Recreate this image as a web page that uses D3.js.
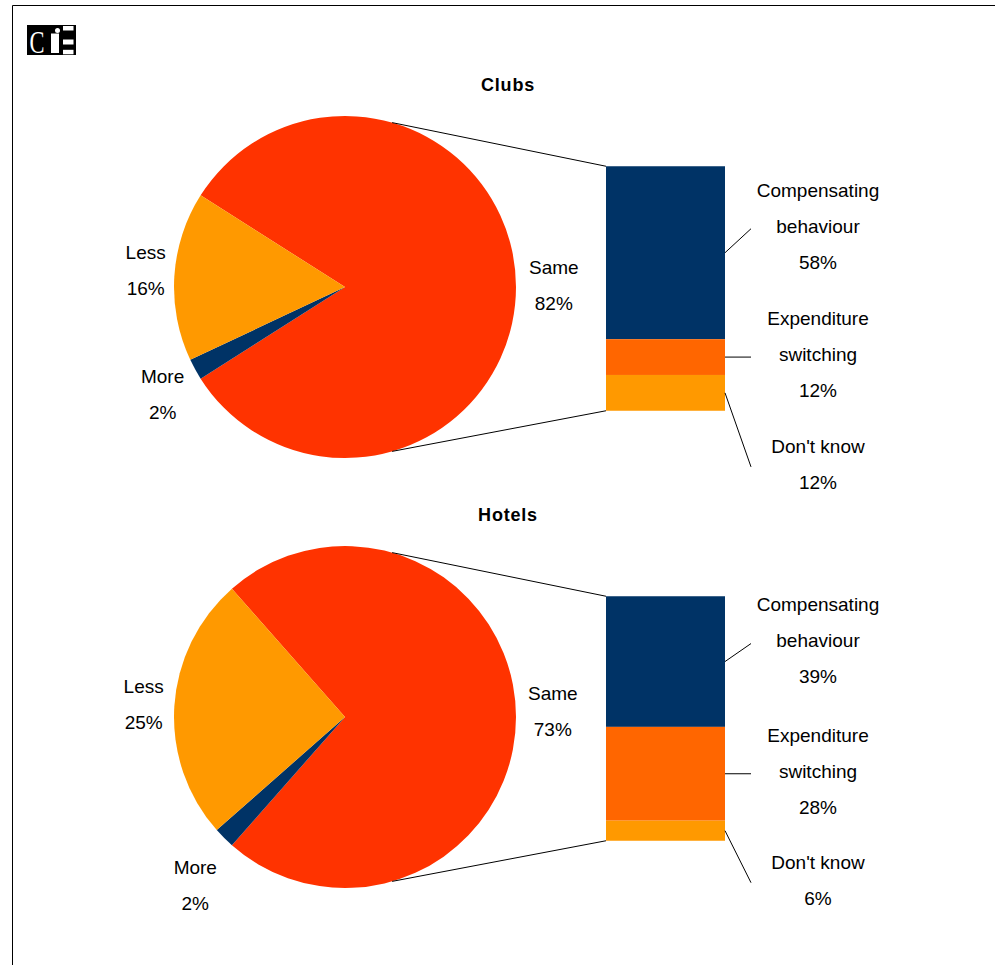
<!DOCTYPE html>
<html>
<head>
<meta charset="utf-8">
<script src="https://cdn.jsdelivr.net/npm/d3@7"></script>
<style>
  html, body { margin: 0; padding: 0; background: #fff; }
  svg { display: block; }
  text { font-family: "Liberation Sans", Arial, sans-serif; fill: #000; }
</style>
</head>
<body>
<svg id="chart" width="995" height="965"></svg>
<script>
// Survey responses: change in spending at clubs and hotels
const panelTitles = ["Clubs", "Hotels"];
const pieCategories = ["Same", "More", "Less"];
const clubsPie = [82, 2, 16];
const hotelsPie = [73, 2, 25];

// Breakdown of the "Same" share
const barCategories = ["Compensating behaviour", "Expenditure switching", "Don't know"];
const clubsBar = [58, 12, 12];
const hotelsBar = [39, 28, 6];

const pieColors = { "Same": "#FF3300", "More": "#003366", "Less": "#FF9900" };
const barColors = { "Compensating behaviour": "#003366", "Expenditure switching": "#FF6600", "Don't know": "#FF9900" };

const svg = d3.select("#chart");

// Outer frame (top and left edges show inside the page)
svg.append("path")
  .attr("d", "M12.5,965 L12.5,5.5 L995,5.5")
  .attr("fill", "none").attr("stroke", "#000").attr("stroke-width", 1);

// Logo
const logo = svg.append("g");
logo.append("rect").attr("x", 27).attr("y", 25).attr("width", 49).attr("height", 30).attr("fill", "#000");
logo.append("text").attr("x", 29.5).attr("y", 53)
  .attr("textLength", 15).attr("lengthAdjust", "spacingAndGlyphs")
  .style("font-family", "'Liberation Serif', 'DejaVu Serif', serif")
  .style("font-size", "31px").style("fill", "#fff").text("C");
logo.append("rect").attr("x", 51).attr("y", 33.5).attr("width", 8).attr("height", 19.5).attr("fill", "#fff");
logo.append("circle").attr("cx", 57.5).attr("cy", 30.5).attr("r", 2.5).attr("fill", "#fff");
[[26, 4.5], [39.5, 5], [49.8, 4.5]].forEach(([y, h]) => {
  logo.append("rect").attr("x", 63).attr("y", y).attr("width", 10.5).attr("height", h).attr("fill", "#fff");
});

// Per-panel layout: pie centre, leader-line offsets for bar labels,
// and small nudges for the pie labels (Same, More, Less)
const panels = [
  { title: panelTitles[0], pie: clubsPie, bar: clubsBar, cy: 287,
    leader: [-24, 0, 74], nudge: [[1, -1.5], [6, 4], [5, -3.5]] },
  { title: panelTitles[1], pie: hotelsPie, bar: hotelsBar, cy: 717,
    leader: [-18, 0, 52], nudge: [[0, -6], [4, 14], [3, 0]] }
];

const cx = 345, R = 171;
const barX = 606, barW = 119, barH = 244.5;
const connectorAngle = 16 * Math.PI / 180;
const lineGap = 36;
const fontSize = 19;

function multiline(g, lines, x, yCenter) {
  const t = g.append("text")
    .attr("text-anchor", "middle")
    .style("font-size", fontSize + "px");
  const n = lines.length;
  lines.forEach((s, i) => {
    t.append("tspan")
      .attr("x", x)
      .attr("y", yCenter + (i - (n - 1) / 2) * lineGap + fontSize * 0.36)
      .text(s);
  });
  return t;
}

function wrapName(name) {
  const words = name.split(" ");
  return name.length > 12 ? words : [name];
}

panels.forEach(p => {
  const g = svg.append("g");
  const cy = p.cy;

  // Title
  g.append("text")
    .attr("x", 508).attr("y", cy - 203 + 6.5)
    .attr("text-anchor", "middle")
    .style("font-size", "18px").style("font-weight", "bold")
    .style("letter-spacing", "0.8px")
    .text(p.title);

  // Pie: the "Same" slice is centred on the right side
  const sameFrac = p.pie[0] / d3.sum(p.pie);
  const start = Math.PI / 2 - sameFrac * Math.PI;
  const pie = d3.pie().sort(null).startAngle(start).endAngle(start + 2 * Math.PI);
  const arcs = pie(p.pie);
  const arc = d3.arc().innerRadius(0).outerRadius(R);

  const pg = g.append("g").attr("transform", `translate(${cx},${cy})`);
  pg.selectAll("path").data(arcs).join("path")
    .attr("d", arc)
    .attr("fill", (d, i) => pieColors[pieCategories[i]]);

  // Pie labels, pushed outward so the text block clears the circle
  arcs.forEach((d, i) => {
    const lines = [pieCategories[i], d.value + "%"];
    const mid = (d.startAngle + d.endAngle) / 2;
    const sx = Math.sin(mid), sy = -Math.cos(mid);
    const tmp = multiline(g, lines, 0, 0);
    const halfW = tmp.node().getBBox().width / 2;
    tmp.remove();
    const halfH = 27;
    const dist = R + 12 + halfW * Math.abs(sx) + halfH * Math.abs(sy);
    multiline(g, lines, cx + dist * sx + p.nudge[i][0], cy + dist * sy + p.nudge[i][1]);
  });

  // Stacked bar for the breakdown of "Same"
  const barTop = cy + 1.5 - barH / 2;
  const total = d3.sum(p.bar);
  const y = d3.scaleLinear().domain([0, total]).range([barTop, barTop + barH]);
  const stack = [];
  let acc = 0;
  p.bar.forEach((v, i) => { stack.push({ name: barCategories[i], v, y0: acc, y1: acc + v }); acc += v; });

  g.selectAll("rect.seg").data(stack).join("rect")
    .attr("class", "seg")
    .attr("x", barX).attr("width", barW)
    .attr("y", d => y(d.y0))
    .attr("height", d => y(d.y1) - y(d.y0))
    .attr("fill", d => barColors[d.name]);

  // Connector lines from the pie to the bar
  const topPt = [cx + R * Math.sin(connectorAngle), cy - R * Math.cos(connectorAngle)];
  const botPt = [cx + R * Math.sin(connectorAngle), cy + R * Math.cos(connectorAngle)];
  g.append("line").attr("x1", topPt[0]).attr("y1", topPt[1]).attr("x2", barX).attr("y2", y(0))
    .attr("stroke", "#000").attr("stroke-width", 1);
  g.append("line").attr("x1", botPt[0]).attr("y1", botPt[1]).attr("x2", barX).attr("y2", y(total))
    .attr("stroke", "#000").attr("stroke-width", 1);

  // Bar labels with leader lines
  stack.forEach((d, i) => {
    const midY = y((d.y0 + d.y1) / 2);
    const endX = 751, endY = midY + p.leader[i];
    g.append("line")
      .attr("x1", barX + barW).attr("y1", midY)
      .attr("x2", endX).attr("y2", endY)
      .attr("stroke", "#000").attr("stroke-width", 1);
    const lines = wrapName(d.name).concat([d.v + "%"]);
    multiline(g, lines, 818, endY - 3);
  });
});
</script>
</body>
</html>
